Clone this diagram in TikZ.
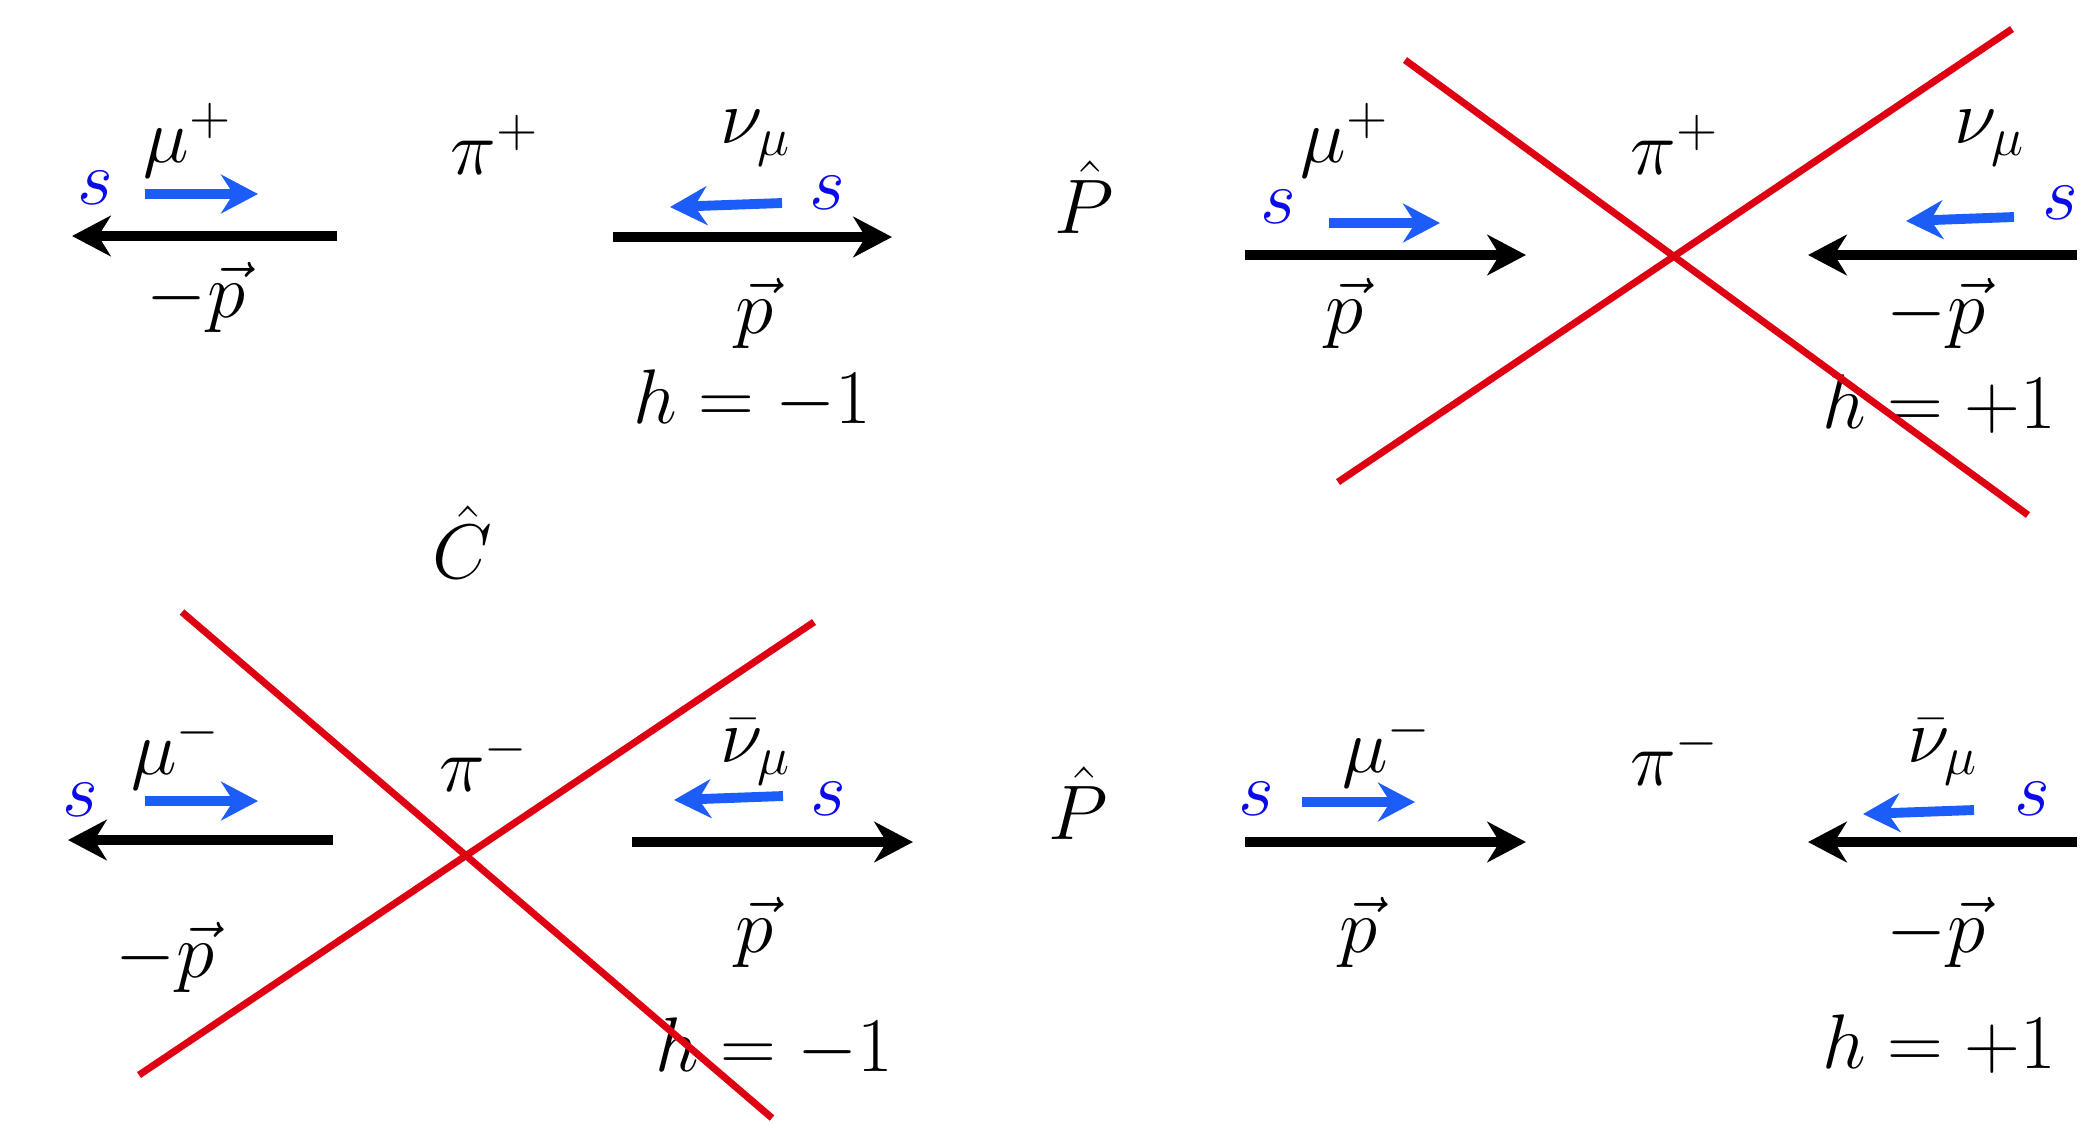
\RequirePackage{fix-cm}
\documentclass[tikz,border=0pt]{standalone}
\usetikzlibrary{arrows.meta}
\definecolor{spinblue}{RGB}{28,92,248}
\definecolor{sblue}{RGB}{10,10,235}
\definecolor{crossred}{RGB}{222,0,18}
\begin{document}
\begin{tikzpicture}[x=0.01cm,y=-0.01cm,
  lbl/.style={inner sep=0pt,font=\fontsize{22}{26}\selectfont},
  slbl/.style={lbl,text=sblue},
  momarrow/.style={line width=2.9pt,-{Stealth[length=11pt,width=11.5pt,inset=3.5pt]}},
  spinarrow/.style={line width=2.8pt,spinblue,-{Stealth[length=10.5pt,width=11pt,inset=3.5pt]}},
  crossline/.style={line width=2pt,crossred}]
\useasboundingbox (0,0) rectangle (2088,1123);
\fill[white] (0,0) rectangle (2088,1123);

% ---------- top left : pi+ ----------
\node[lbl] (muA) at (188,140) {$\mu^+$};
\node[slbl] (sA1) at (95,188) {$s$};
\coordinate (a1s) at (145,194); \coordinate (a1e) at (258,194);
\draw[spinarrow] (a1s) -- (a1e);
\coordinate (a2s) at (337,236); \coordinate (a2e) at (72,236);
\draw[momarrow] (a2s) -- (a2e);
\node[lbl] (pA1) at (196,297) {$-\vec{p}$};
\node[lbl] (piA) at (495,145) {$\pi^+$};
\node[lbl] (nuA) at (756,138) {$\nu_\mu$};
\coordinate (a3s) at (782,203); \coordinate (a3e) at (670,207);
\draw[spinarrow] (a3s) -- (a3e);
\node[slbl] (sA2) at (827,193) {$s$};
\coordinate (a4s) at (613,237); \coordinate (a4e) at (892,237);
\draw[momarrow] (a4s) -- (a4e);
\node[lbl] (pA2) at (755,313) {$\vec{p}$};
\node[lbl] (hA) at (752,400) {$h=-1$};
\node[lbl] (Chat) at (462,542) {$\hat{C}$};
\node[lbl] (PhatA) at (1084,197) {$\hat{P}$};

% ---------- top right : pi+ (forbidden) ----------
\node[lbl] (muB) at (1345,140) {$\mu^+$};
\node[slbl] (sB1) at (1278,207) {$s$};
\coordinate (b1s) at (1329,223); \coordinate (b1e) at (1440,223);
\draw[spinarrow] (b1s) -- (b1e);
\coordinate (b2s) at (1245,255); \coordinate (b2e) at (1526,255);
\draw[momarrow] (b2s) -- (b2e);
\node[lbl] (pB1) at (1345,313) {$\vec{p}$};
\node[lbl] (piB) at (1675,145) {$\pi^+$};
\node[lbl] (nuB) at (1990,138) {$\nu_\mu$};
\coordinate (b3s) at (2014,217); \coordinate (b3e) at (1906,221);
\draw[spinarrow] (b3s) -- (b3e);
\node[slbl] (sB2) at (2060,203) {$s$};
\coordinate (b4s) at (2077,255); \coordinate (b4e) at (1808,255);
\draw[momarrow] (b4s) -- (b4e);
\node[lbl] (pB2) at (1936,313) {$-\vec{p}$};
\node[lbl] (hB) at (1939,404) {$h=+1$};
\coordinate (rB1s) at (1405,60); \coordinate (rB1e) at (2028,515);
\coordinate (rB2s) at (1338,482); \coordinate (rB2e) at (2012,29);
\draw[crossline] (rB1s) -- (rB1e);
\draw[crossline] (rB2s) -- (rB2e);

% ---------- bottom left : pi- (forbidden) ----------
\node[lbl] (muC) at (176,752) {$\mu^-$};
\node[slbl] (sC1) at (80,800) {$s$};
\coordinate (c1s) at (145,801); \coordinate (c1e) at (258,801);
\draw[spinarrow] (c1s) -- (c1e);
\coordinate (c2s) at (333,840); \coordinate (c2e) at (68,840);
\draw[momarrow] (c2s) -- (c2e);
\node[lbl] (pC1) at (165,957) {$-\vec{p}$};
\node[lbl] (piC) at (484,762) {$\pi^-$};
\node[lbl] (nuC) at (756,752) {$\bar{\nu}_\mu$};
\coordinate (c3s) at (783,796); \coordinate (c3e) at (674,800);
\draw[spinarrow] (c3s) -- (c3e);
\node[slbl] (sC2) at (828,799) {$s$};
\coordinate (c4s) at (632,842); \coordinate (c4e) at (913,842);
\draw[momarrow] (c4s) -- (c4e);
\node[lbl] (pC2) at (755,932) {$\vec{p}$};
\node[lbl] (hC) at (774,1048) {$h=-1$};
\coordinate (rC1s) at (182,612); \coordinate (rC1e) at (772,1118);
\coordinate (rC2s) at (139,1075); \coordinate (rC2e) at (814,622);
\draw[crossline] (rC1s) -- (rC1e);
\draw[crossline] (rC2s) -- (rC2e);

% ---------- bottom right : pi- ----------
\node[lbl] (PhatB) at (1078,803) {$\hat{P}$};
\node[slbl] (sD1) at (1256,799) {$s$};
\coordinate (d1s) at (1302,802); \coordinate (d1e) at (1415,802);
\draw[spinarrow] (d1s) -- (d1e);
\node[lbl] (muD) at (1387,750) {$\mu^-$};
\coordinate (d2s) at (1245,842); \coordinate (d2e) at (1526,842);
\draw[momarrow] (d2s) -- (d2e);
\node[lbl] (pD1) at (1359,932) {$\vec{p}$};
\node[lbl] (piD) at (1675,756) {$\pi^-$};
\node[lbl] (nuD) at (1943,752) {$\bar{\nu}_\mu$};
\coordinate (d3s) at (1974,810); \coordinate (d3e) at (1863,814);
\draw[spinarrow] (d3s) -- (d3e);
\node[slbl] (sD2) at (2032,799) {$s$};
\coordinate (d4s) at (2077,842); \coordinate (d4e) at (1808,842);
\draw[momarrow] (d4s) -- (d4e);
\node[lbl] (pD2) at (1936,932) {$-\vec{p}$};
\node[lbl] (hD) at (1939,1044) {$h=+1$};
\end{tikzpicture}
\end{document}
